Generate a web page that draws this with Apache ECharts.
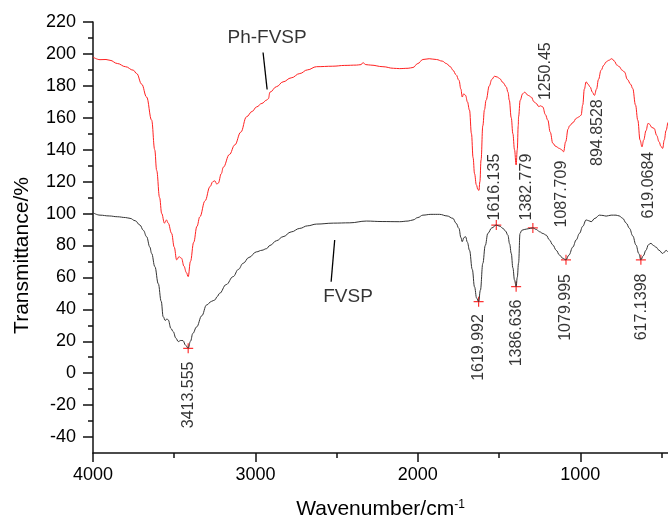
<!DOCTYPE html>
<html>
<head>
<meta charset="utf-8">
<script src="https://cdn.jsdelivr.net/npm/echarts@6/dist/echarts.min.js"></script>
<style>
  html, body { margin: 0; padding: 0; background: #fff; }
  #chart1 { width: 668px; height: 523px; }
</style>
</head>
<body>
<div id="chart1"></div>
<script>
// Ph-FVSP (red) spectrum: wavenumber, transmittance
var phWave = [4000, 3957, 3920, 3895, 3850, 3800, 3752, 3731, 3700, 3670, 3639, 3620, 3608, 3590, 3577, 3560, 3548, 3537,
  3516, 3500, 3485, 3470, 3455, 3440, 3425, 3414, 3400, 3380, 3360, 3342, 3310, 3280, 3262, 3250, 3238, 3229, 3210, 3198,
  3160, 3127, 3090, 3055, 3020, 2993, 2960, 2932, 2920, 2911, 2870, 2830, 2780, 2727, 2680, 2624, 2524, 2450, 2378, 2350,
  2338, 2320, 2290, 2215, 2150, 2112, 2060, 2030, 2000, 1969, 1930, 1886, 1850, 1825, 1800, 1784, 1765, 1747, 1735, 1727,
  1718, 1706, 1695, 1682, 1670, 1660, 1651, 1640, 1630, 1624, 1618, 1611, 1600, 1590, 1580, 1560, 1545, 1528, 1510, 1497,
  1475, 1456, 1445, 1437, 1425, 1415, 1405, 1395, 1388, 1382, 1380, 1370, 1355, 1343, 1320, 1302, 1285, 1272, 1255, 1245,
  1231, 1215, 1200, 1185, 1169, 1150, 1128, 1115, 1103, 1090, 1075, 1066, 1045, 1025, 1010, 995, 985, 975, 964, 952, 940,
  925, 913, 900, 888, 872, 855, 841, 825, 806, 790, 775, 759, 745, 728, 710, 690, 677, 660, 646, 632, 620, 610, 595, 583,
  574, 560, 545, 530, 515, 503, 493, 483, 472, 462];
var phValue = [198, 196.4, 196.5, 196, 194, 192, 189.8, 187.7, 181, 173, 158.5, 140, 127, 110, 100, 94, 96, 94,
  87.6, 79, 71, 73, 72, 67, 63, 60.5, 70, 82, 92, 98, 108, 116.8, 120, 120.5, 118.5, 119, 125, 129,
  137, 143, 151, 160.6, 164, 166.8, 169, 171, 172, 176, 179.5, 182.5, 185, 187.7, 190, 192, 192.3, 192.8, 193, 193.3,
  194.5, 193.3, 193, 192, 191, 190.8, 191, 191.5, 194, 196.5, 197, 196.5, 195.5, 194, 192, 189.8, 187, 183.5, 178, 173,
  175, 174, 170, 164.8, 150, 135, 125, 118, 115, 114.5, 120, 133.5, 155, 165, 171, 180, 184, 186, 185.5, 184.6,
  182, 179.4, 176, 171, 160, 150, 140, 130.4, 140, 155, 160.6, 171, 175, 176, 174, 173, 170, 169, 167, 167.5,
  166.8, 162, 158.5, 151, 144, 142, 140.8, 140, 138.7, 145, 153, 155, 157, 159.6, 160.5, 161.6, 168, 178, 182.5, 181, 179.4,
  176, 174, 178, 184, 189.8, 193, 195, 196, 197, 195.5, 193, 192, 190, 188.7, 184, 181, 178.3, 168, 158.5, 146, 141.8, 146, 152, 156.5,
  156, 154, 153.3, 149, 145, 142, 140.8, 146, 152, 157];

// FVSP (black) spectrum
var fvWave = [4000, 3957, 3900, 3850, 3800, 3772, 3740, 3711, 3690, 3670, 3650, 3639, 3619, 3598, 3580, 3568, 3555, 3545,
  3537, 3520, 3506, 3490, 3475, 3460, 3446, 3430, 3414, 3400, 3385, 3362, 3330, 3301, 3270, 3250, 3235, 3221, 3180, 3137,
  3105, 3076, 3040, 2994, 2960, 2932, 2911, 2870, 2830, 2780, 2727, 2680, 2624, 2520, 2419, 2317, 2220, 2112, 2060, 2030,
  2000, 1969, 1920, 1866, 1820, 1784, 1765, 1747, 1735, 1727, 1716, 1706, 1695, 1682, 1665, 1651, 1638, 1626, 1615, 1600,
  1585, 1569, 1545, 1517, 1495, 1476, 1460, 1446, 1435, 1425, 1415, 1405, 1395, 1388, 1380, 1371, 1360, 1345, 1320, 1292,
  1270, 1251, 1230, 1210, 1190, 1169, 1148, 1128, 1108, 1088, 1070, 1046, 1025, 1005, 985, 964, 948, 933, 910, 882, 860,
  841, 810, 780, 760, 739, 717, 697, 677, 657, 640, 627, 612, 596, 580, 565, 550, 534, 515, 493, 480, 472, 462];
var fvValue = [100.5, 99, 98.5, 98, 97.5, 97, 95.5, 92.8, 89.5, 85.5, 79, 75, 66.7, 56, 45, 35.4, 33, 34,
  33.4, 28, 26, 22, 19.8, 20.5, 20.4, 17.5, 15.6, 20, 25, 29, 36, 42.7, 45, 45.9, 48, 50, 55.5, 60.5,
  65, 68.8, 72.5, 76, 77, 78, 80, 83, 85.5, 88.5, 90.7, 92.3, 93.4, 94, 94.2, 95.3, 95, 94.9, 95.3, 96,
  97.5, 99, 99.5, 99.5, 98.5, 97, 94, 90.7, 85, 82.4, 85, 85.5, 82, 77, 65, 54, 47, 44.8, 52, 68.8,
  80, 87.6, 91, 92.8, 92, 90.7, 89, 86.5, 81, 75, 66, 58.4, 54.2, 60, 69, 87.6, 89.5, 90, 90.5, 91,
  90, 88.6, 87.5, 86.5, 83.5, 80.3, 77, 74, 72, 71, 74, 79, 83.5, 87.6, 92, 96, 95.5, 94.9, 97, 99, 98.8,
  98.4, 99, 99, 98.5, 97, 94, 90.7, 86, 80.3, 75, 71, 73.5, 77, 80.5, 81.4, 80, 79, 77, 75, 76, 77, 76];

// red "+" markers on the FVSP curve
var markWave = [3414, 1626, 1517, 1395, 1292, 1088, 627];
var markValue = [15.6, 44.8, 92.8, 54.2, 91, 71, 71];

// peak labels (centre position in data units)
var peakText = ['3413.555', '1619.992', '1616.135', '1386.636', '1382.779', '1087.709', '1079.995',
  '617.1398', '619.0684', '894.8528', '1250.45'];
var peakWave = [3414, 1626, 1528, 1391, 1333, 1116, 1093, 625, 581, 896, 1216];
var peakValue = [-13.6, 16.1, 116.6, 25.2, 116.6, 112.2, 41.2, 41.5, 117.8, 150.7, 189.2];

// curve names and their leader lines
var nameText = ['Ph-FVSP', 'FVSP'];
var nameWave = [2928, 2430];
var nameValue = [210.3, 47.9];
var leaderPh = [[2953, 200.9], [2928, 177.7]];
var leaderFv = [[2512, 83.4], [2534, 57.3]];

var xMajor = [4000, 3000, 2000, 1000];
var xMinor = [3500, 2500, 1500, 500];
var yMajor = [-40, -20, 0, 20, 40, 60, 80, 100, 120, 140, 160, 180, 200, 220];
var yMinor = [-30, -10, 10, 30, 50, 70, 90, 110, 130, 150, 170, 190, 210];

function pairs(a, b) {
    return a.map(function (v, i) { return [v, b[i]]; });
}
function plain(v) { return String(v); }

var FONT = 'Liberation Sans, Arial, sans-serif';
var axisCol = '#111';

var myChart = echarts.init(document.getElementById('chart1'));

myChart.setOption({
    animation: false,
    backgroundColor: '#fff',
    grid: { left: 93, right: 0, top: 22, bottom: 70, outerBoundsMode: 'none' },
    xAxis: [
        {
            type: 'value', inverse: true, min: 460, max: 4000,
            position: 'bottom',
            name: 'Wavenumber/cm{sup|-1}',
            nameLocation: 'middle',
            nameGap: 46,
            nameTextStyle: {
                fontSize: 21, color: '#000', fontFamily: FONT,
                rich: { sup: { fontSize: 12, verticalAlign: 'top', color: '#000', fontFamily: FONT } }
            },
            axisLine: { onZero: false, lineStyle: { color: axisCol, width: 1.5 } },
            axisTick: { inside: false, length: 9, customValues: xMajor, lineStyle: { color: axisCol, width: 1.5 } },
            axisLabel: { customValues: xMajor, formatter: plain, fontSize: 18, color: '#000', fontFamily: FONT, margin: 13 },
            splitLine: { show: false }
        },
        {
            type: 'value', inverse: true, min: 460, max: 4000,
            position: 'bottom',
            axisLine: { show: false, onZero: false },
            axisTick: { length: 5, customValues: xMinor, lineStyle: { color: axisCol, width: 1.5 } },
            axisLabel: { show: false },
            splitLine: { show: false }
        }
    ],
    yAxis: [
        {
            type: 'value', min: -50, max: 220,
            position: 'left',
            name: 'Transmittance/%',
            nameLocation: 'middle',
            nameGap: 60,
            nameTextStyle: { fontSize: 21, color: '#000', fontFamily: FONT, padding: [0, 36, 0, 0] },
            axisLine: { onZero: false, lineStyle: { color: axisCol, width: 1.5 } },
            axisTick: { length: 10, customValues: yMajor, lineStyle: { color: axisCol, width: 1.5 } },
            axisLabel: { customValues: yMajor, formatter: plain, fontSize: 18, color: '#000', fontFamily: FONT, margin: 17 },
            splitLine: { show: false }
        },
        {
            type: 'value', min: -50, max: 220,
            position: 'left',
            axisLine: { show: false, onZero: false },
            axisTick: { length: 5, customValues: yMinor, lineStyle: { color: axisCol, width: 1.5 } },
            axisLabel: { show: false },
            splitLine: { show: false }
        }
    ],
    series: [
        {
            name: 'Ph-FVSP', type: 'line', showSymbol: false, smooth: 0.4, smoothMonotone: 'x',
            data: pairs(phWave, phValue),
            lineStyle: { color: '#ff2020', width: 1 }
        },
        {
            name: 'FVSP', type: 'line', showSymbol: false, smooth: 0.4, smoothMonotone: 'x',
            data: pairs(fvWave, fvValue),
            lineStyle: { color: '#333', width: 1 }
        },
        {
            type: 'scatter',
            data: pairs(markWave, markValue),
            symbol: 'path://M0,5L10,5M5,0L5,10',
            symbolSize: 10,
            itemStyle: { color: 'transparent', borderColor: '#ff0000', borderWidth: 1.2 }
        },
        {
            type: 'line', showSymbol: false, data: leaderPh,
            lineStyle: { color: '#000', width: 1.3 }
        },
        {
            type: 'line', showSymbol: false, data: leaderFv,
            lineStyle: { color: '#000', width: 1.3 }
        },
        {
            type: 'scatter', symbolSize: 1, itemStyle: { color: 'transparent' },
            data: peakWave.map(function (w, i) { return { value: [w, peakValue[i]], name: peakText[i] }; }),
            label: {
                show: true, position: 'inside', rotate: 90,
                formatter: '{b}', fontSize: 16, color: '#000', fontFamily: FONT
            }
        },
        {
            type: 'scatter', symbolSize: 1, itemStyle: { color: 'transparent' },
            data: nameWave.map(function (w, i) { return { value: [w, nameValue[i]], name: nameText[i] }; }),
            label: {
                show: true, position: 'inside',
                formatter: '{b}', fontSize: 19, color: '#000', fontFamily: FONT
            }
        }
    ]
});
</script>
</body>
</html>
